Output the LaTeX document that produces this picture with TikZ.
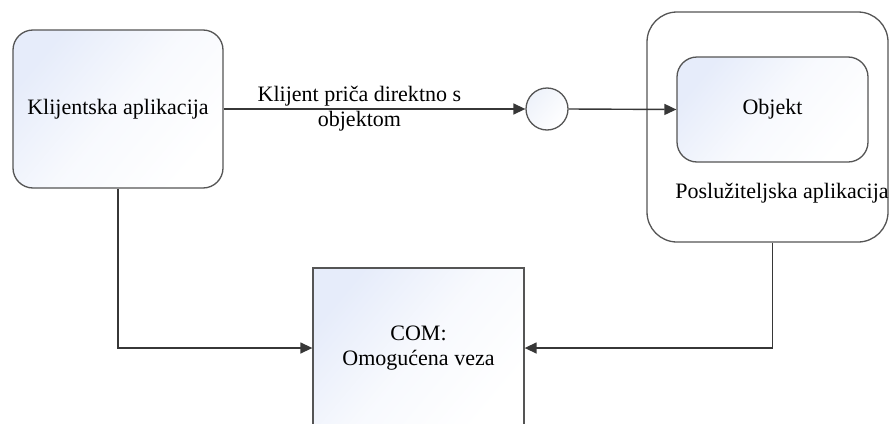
\documentclass[tikz,border=0pt]{standalone}
\usepackage{fontspec}
\setmainfont{Liberation Serif}
\newfontfamily\diagfont{Liberation Serif}
\usetikzlibrary{arrows.meta,calc}
\definecolor{fillc}{RGB}{230,236,250}
\definecolor{fillcc}{RGB}{238,242,250}
\definecolor{edgec}{RGB}{85,85,85}
\definecolor{linec}{RGB}{55,55,55}
\tikzset{
  txt/.style={font=\diagfont\fontsize{22}{25}\selectfont, text=black},
  grad/.style={top color=fillc, bottom color=white, middle color=white!70!fillc, shading angle=50},
  cgrad/.style={top color=fillcc, bottom color=white, shading angle=50},
  box/.style={draw=edgec, line width=1.3pt, txt, inner sep=0pt, align=center},
  conn/.style={draw=linec, line width=1.4pt, -{Triangle[length=12pt,width=11pt]}}
}
\begin{document}
\begin{tikzpicture}[x=1pt,y=1pt]
\useasboundingbox (0,0) rectangle (890,-423);
\clip (0,0) rectangle (890,-423);
\node[box, grad, rounded corners=20pt, minimum width=210pt, minimum height=158pt] (client) at (118,-109) {Klijentska aplikacija};
\node[box, fill=white, rounded corners=30pt, minimum width=241pt, minimum height=230pt] (server) at (767.5,-127) {};
\node[box, grad, rounded corners=20pt, minimum width=191pt, minimum height=105pt] (obj) at (772.5,-109.5) {Objekt};
\node[txt] (srvlabel) at (782,-193) {Poslužiteljska aplikacija};
\node[box, cgrad, circle, minimum size=42pt] (circ) at (547,-109) {};
\node[box, grad, rectangle, minimum width=211pt, minimum height=160pt] (com) at (418.5,-348) {COM:\\Omogućena veza};
\draw[conn] (client.east) -- node[txt, pos=0.45, align=center, inner sep=0pt] (lbl) {Klijent priča direktno s\\objektom} (circ.west);
\draw[conn] (circ.east) -- (obj.west);
\draw[conn] (client.south) -- (client.south |- com.west) -- (com.west);
\draw[conn] (obj.south |- server.south) -- (obj.south |- com.east) -- (com.east);
\end{tikzpicture}
\end{document}
